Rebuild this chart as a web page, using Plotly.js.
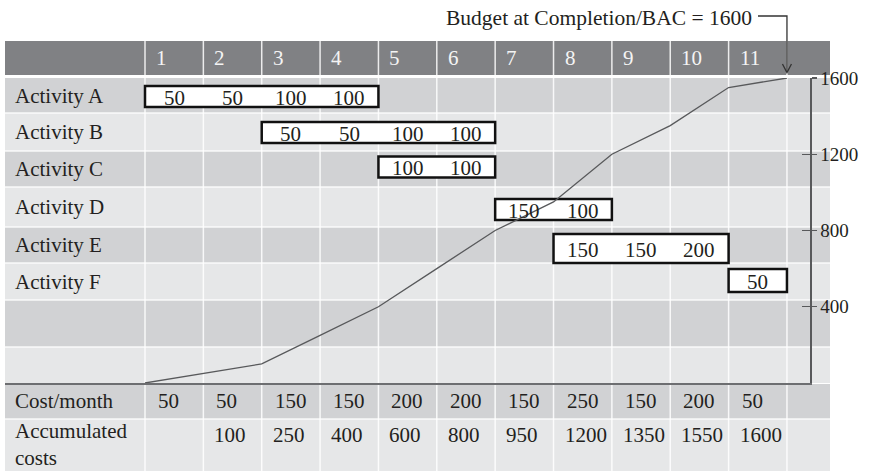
<!DOCTYPE html>
<html>
<head>
<meta charset="utf-8">
<script src="https://cdn.plot.ly/plotly-3.0.1.min.js"></script>
<style>html,body{margin:0;padding:0;background:#fff;}#chart{width:871px;height:471px;}</style>
</head>
<body>
<div id="chart"></div>
<script>
// ---------- DATA ----------
const months = ['1','2','3','4','5','6','7','8','9','10','11'];
const activities = ['Activity A','Activity B','Activity C','Activity D','Activity E','Activity F'];
const activityStart = [1, 3, 5, 7, 8, 11];
const activityCostsA = [50, 50, 100, 100];
const activityCostsB = [50, 50, 100, 100];
const activityCostsC = [100, 100];
const activityCostsD = [150, 100];
const activityCostsE = [150, 150, 200];
const activityCostsF = [50];
const activityCosts = [activityCostsA, activityCostsB, activityCostsC, activityCostsD, activityCostsE, activityCostsF];
const costPerMonth = [50, 50, 150, 150, 200, 200, 150, 250, 150, 200, 50];
const accumulatedCosts = [null, 100, 250, 400, 600, 800, 950, 1200, 1350, 1550, 1600];
const curveMonths = [0, 1, 2, 3, 4, 5, 6, 7, 8, 9, 10, 11];
const curveValues = [0, 50, 100, 250, 400, 600, 800, 950, 1200, 1350, 1550, 1600];
const yTicks = [400, 800, 1200, 1600];
const bacLabel = 'Budget at Completion/BAC = 1600';
const bacMonth = 11;
const rowLabelCost = 'Cost/month';
const rowLabelAcc = 'Accumulated<br>costs';

// ---------- STYLE / LAYOUT HELPERS ----------
const FONT = 'Liberation Serif, Times New Roman, serif';
const TXT = '#231f20';
const HEAD = '#808184', DARK = '#d1d2d4', LIGHT = '#e6e7e8';
const COL = 58.36;            // px per month
const X0PX = 145;             // px of month boundary 0
const m = p => (p - X0PX) / COL; // pixel -> month units
const xMin = m(5), xMax = m(830), xAxisEnd = m(810);

// row bands in pixel rows (y axis is in pixel units)
const bands = [
  [41, 75, HEAD],
  [78, 113, DARK], [113, 151, LIGHT], [151, 187, DARK], [187, 227, LIGHT],
  [227, 263, DARK], [263, 300, LIGHT], [300, 347, DARK], [347, 383, LIGHT],
  [384, 419, DARK], [419, 471, LIGHT]
];
const activityRowCenter = [96.5, 132.5, 167, 209.5, 248.5, 280.5];
const activityLabelY = [95.5, 132, 169, 207, 245, 281.5];
const boxHalf = [10.5, 10.5, 10.5, 10.5, 14.5, 11.5];
const headerY = 58, costY = 401, accY = 435, accLabelY = 444;

const shapes = [];
const annotations = [];

bands.forEach(b => shapes.push({type:'rect', xref:'x', yref:'y', x0:xMin, x1:xMax, y0:b[0], y1:b[1],
  fillcolor:b[2], line:{width:0}, layer:'below'}));
// horizontal white separators
[113, 151, 187, 227, 263, 300, 347, 419].forEach(y => shapes.push({type:'line', xref:'x', yref:'y',
  x0:xMin, x1:xMax, y0:y, y1:y, line:{color:'rgba(255,255,255,0.85)', width:1.5}, layer:'below'}));
// vertical white separators at month boundaries
for (let k = 0; k <= months.length; k++) {
  shapes.push({type:'line', xref:'x', yref:'y', x0:k, x1:k, y0:41, y1:471,
    line:{color:'rgba(255,255,255,0.85)', width:1.5}, layer:'below'});
}
// activity boxes + values
activities.forEach((name, i) => {
  const s = activityStart[i], vals = activityCosts[i];
  const cy = activityRowCenter[i];
  shapes.push({type:'rect', xref:'x', yref:'y', x0:s - 1, x1:s - 1 + vals.length,
    y0:cy - boxHalf[i], y1:cy + boxHalf[i], fillcolor:'#ffffff',
    line:{color:'#111', width:2.5}, layer:'below'});
  vals.forEach((v, j) => annotations.push({xref:'x', yref:'y', x:s - 1 + j + 0.5, y:cy + 1,
    text:String(v), showarrow:false, xanchor:'center', yanchor:'middle',
    font:{family:FONT, size:21, color:TXT}}));
  annotations.push({xref:'x', yref:'y', x:m(13), y:activityLabelY[i], text:name, showarrow:false,
    xanchor:'left', yanchor:'middle', font:{family:FONT, size:21, color:TXT}});
});
// header month numbers
months.forEach((t, k) => annotations.push({xref:'x', yref:'y', x:k + 9 / COL, y:headerY, text:t,
  showarrow:false, xanchor:'left', yanchor:'middle', font:{family:FONT, size:21, color:'#f4f4f4'}}));
// cost per month and accumulated rows
costPerMonth.forEach((v, k) => annotations.push({xref:'x', yref:'y', x:k + 11 / COL, y:costY,
  text:String(v), showarrow:false, xanchor:'left', yanchor:'middle', font:{family:FONT, size:21, color:TXT}}));
accumulatedCosts.forEach((v, k) => { if (v !== null) annotations.push({xref:'x', yref:'y', x:k + 9 / COL, y:accY,
  text:String(v), showarrow:false, xanchor:'left', yanchor:'middle', font:{family:FONT, size:21, color:TXT}}); });
annotations.push({xref:'x', yref:'y', x:m(13), y:costY, text:rowLabelCost, showarrow:false,
  xanchor:'left', yanchor:'middle', font:{family:FONT, size:21, color:TXT}});
annotations.push({xref:'x', yref:'y', x:m(13), y:accLabelY, text:rowLabelAcc, showarrow:false, align:'left',
  xanchor:'left', yanchor:'middle', font:{family:FONT, size:21, color:TXT}});

// BAC label with bent arrow
annotations.push({xref:'x', yref:'y', x:m(754), y:18, text:bacLabel, showarrow:false,
  xanchor:'right', yanchor:'middle', font:{family:FONT, size:21.5, color:TXT}});
shapes.push({type:'path', xref:'x', yref:'y',
  path:`M ${m(758)} 16 L ${bacMonth} 16 L ${bacMonth} 72`, line:{color:'#333', width:1.3}});
const ah = 4.5 / COL;
shapes.push({type:'path', xref:'x', yref:'y',
  path:`M ${bacMonth - ah} 64 L ${bacMonth} 72.5 L ${bacMonth + ah} 64`, line:{color:'#333', width:1.3}});

const traces = [
  {x:curveMonths, y:curveValues, xaxis:'x2', yaxis:'y2', mode:'lines',
   line:{color:'#58595b', width:1.3}, hoverinfo:'skip', showlegend:false},
  // carrier trace so the overlaying tick axis (inner half of crossing ticks) is rendered
  {x:curveMonths, y:curveValues, xaxis:'x2', yaxis:'y3', mode:'lines',
   line:{color:'rgba(0,0,0,0)', width:0}, hoverinfo:'skip', showlegend:false}
];

const layout = {
  width:871, height:471, margin:{l:5, r:41, t:0, b:0, pad:0},
  paper_bgcolor:'#ffffff', plot_bgcolor:'rgba(0,0,0,0)', showlegend:false,
  xaxis:{domain:[0,1], range:[xMin, xMax], visible:false, fixedrange:true},
  yaxis:{range:[471, 0], visible:false, fixedrange:true},
  xaxis2:{domain:[0, (810 - 5) / 825], range:[xMin, xAxisEnd], anchor:'y2', showline:true,
    linecolor:'#6d6e71', linewidth:2, showticklabels:false, ticks:'', showgrid:false, zeroline:false},
  yaxis2:{domain:[(471 - 383) / 471, (471 - 78) / 471], range:[0, 1600], anchor:'x2', side:'right',
    showline:true, linecolor:'#58595b', linewidth:1.5, ticks:'outside', ticklen:5, tickwidth:1.2,
    tickcolor:'#58595b', tickvals:yTicks, ticktext:yTicks.map(String), showgrid:false, zeroline:false,
    tickfont:{family:FONT, size:19, color:TXT}},
  yaxis3:{overlaying:'y2', anchor:'x2', side:'right', range:[0, 1600], ticks:'inside', ticklen:8,
    tickwidth:1.2, tickcolor:'#58595b', tickvals:yTicks, showticklabels:false, showline:false,
    showgrid:false, zeroline:false},
  shapes:shapes, annotations:annotations
};

Plotly.newPlot('chart', traces, layout, {staticPlot:true, displayModeBar:false});
</script>
</body>
</html>
